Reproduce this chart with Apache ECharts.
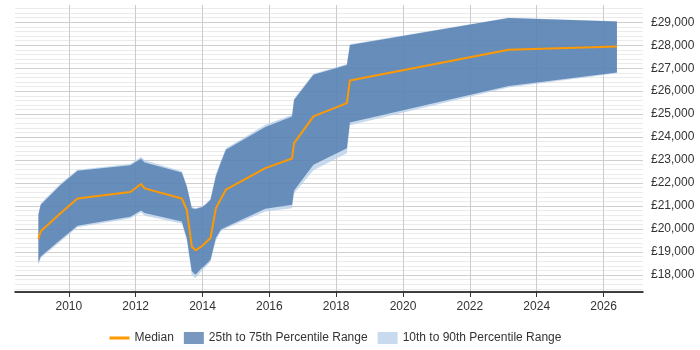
<!DOCTYPE html>
<html>
<head>
<meta charset="utf-8">
<script src="https://cdn.jsdelivr.net/npm/echarts@6/dist/echarts.min.js"></script>
<style>
  html, body { margin: 0; padding: 0; background: #fff; }
  #chart { width: 700px; height: 350px; }
</style>
</head>
<body>
<div id="chart"></div>
<script>
// decimal years where the percentiles change
const years = [2009.09, 2009.16, 2009.76, 2010.26, 2011.84, 2012.16, 2012.27, 2013.38, 2013.53, 2013.68,
  2013.79, 2013.98, 2014.08, 2014.24, 2014.40, 2014.55, 2014.70, 2015.88, 2016.68, 2016.74,
  2017.32, 2018.32, 2018.41, 2023.16, 2026.40];

const median = [19560, 19900, 20700, 21330, 21610, 21960, 21770, 21330, 20840, 19240,
  19070, 19250, 19390, 19610, 20900, 21320, 21710, 22650, 23070, 23740,
  24900, 25480, 26460, 27800, 27940];

const p25 = [18530, 18810, 19540, 20140, 20530, 20810, 20700, 20330, 19610, 18160,
  18010, 18300, 18420, 18660, 19610, 19980, 20090, 20880, 21060, 21680,
  22800, 23520, 24640, 26230, 26810];

const p75 = [20620, 21060, 21930, 22540, 22780, 23060, 22900, 22460, 21850, 20910,
  20870, 20950, 21050, 21270, 22300, 22900, 23450, 24440, 24900, 25620,
  26710, 27140, 28010, 29180, 29030];

const p10 = [18420, 18740, 19470, 20080, 20460, 20720, 20580, 20240, 19500, 18000,
  17860, 18180, 18330, 18580, 19500, 19900, 20020, 20760, 20900, 21550,
  22560, 23300, 24520, 26160, 26780];

const p90 = [20680, 21120, 21990, 22580, 22830, 23150, 22990, 22520, 21900, 20960,
  20900, 20990, 21090, 21320, 22380, 22980, 23520, 24540, 24970, 25680,
  26760, 27180, 28040, 29200, 29040];

const yearTicks = [2010, 2012, 2014, 2016, 2018, 2020, 2022, 2024, 2026];

const FONT = '"Liberation Sans", Arial, sans-serif';

function money(v) {
  return '£' + String(v).replace(/\B(?=(\d{3})+(?!\d))/g, ',');
}

// whole band drawn as one polygon from the first item
function band(lo, hi) {
  return function (params, api) {
    if (params.dataIndex !== 0) return;
    let pts = [];
    for (let i = 0; i < years.length; i++) pts.push(api.coord([years[i], hi[i]]));
    for (let j = years.length - 1; j >= 0; j--) pts.push(api.coord([years[j], lo[j]]));
    return {
      type: 'polygon',
      shape: { points: pts },
      style: { fill: api.visual('color') }
    };
  };
}

const chart = echarts.init(document.getElementById('chart'), null, { renderer: 'canvas' });

chart.setOption({
  animation: false,
  textStyle: { fontFamily: FONT },
  grid: { left: 15, right: 57, top: 5, bottom: 58, containLabel: false },
  legend: {
    left: 103,
    top: 327,
    itemWidth: 20,
    itemHeight: 12,
    itemGap: 10,
    textStyle: { fontSize: 12, color: '#333', fontFamily: FONT },
    data: [
      { name: 'Median', lineStyle: { width: 3 }, itemStyle: { opacity: 0 } },
      { name: '25th to 75th Percentile Range', icon: 'rect' },
      { name: '10th to 90th Percentile Range', icon: 'rect' }
    ]
  },
  xAxis: {
    type: 'value',
    min: 2008.39,
    max: 2027.18,
    splitNumber: 9,
    axisLine: { lineStyle: { color: '#000', width: 1.5 } },
    axisTick: { show: true, length: 5, customValues: yearTicks, lineStyle: { color: '#333' } },
    axisLabel: {
      customValues: yearTicks,
      margin: 9,
      fontSize: 12,
      color: '#333',
      fontFamily: FONT,
      formatter: function (v) { return v % 2 === 0 ? String(v) : ''; }
    },
    splitLine: { show: true, lineStyle: { color: '#cccccc' } }
  },
  yAxis: {
    type: 'value',
    position: 'right',
    min: 17260,
    max: 29750,
    splitNumber: 12,
    axisLine: { show: false },
    axisTick: { show: false },
    axisLabel: {
      showMinLabel: false,
      showMaxLabel: false,
      margin: 8,
      fontSize: 12,
      color: '#333',
      fontFamily: FONT,
      formatter: money
    },
    splitLine: { show: true, showMinLine: false, showMaxLine: false, lineStyle: { color: '#cfcfcf' } },
    minorTick: { show: false, splitNumber: 5 },
    minorSplitLine: { show: true, lineStyle: { color: '#ebebeb' } }
  },
  series: [
    {
      name: '10th to 90th Percentile Range',
      type: 'custom',
      renderItem: band(p10, p90),
      itemStyle: { color: 'rgba(180,205,232,0.75)' },
      encode: { x: 0, y: [1, 2] },
      data: years.map((y, i) => [y, p10[i], p90[i]])
    },
    {
      name: '25th to 75th Percentile Range',
      type: 'custom',
      renderItem: band(p25, p75),
      itemStyle: { color: 'rgba(62,108,165,0.7)' },
      encode: { x: 0, y: [1, 2] },
      data: years.map((y, i) => [y, p25[i], p75[i]])
    },
    {
      name: 'Median',
      type: 'line',
      symbol: 'none',
      color: '#ff9900',
      lineStyle: { width: 2, color: '#ff9900' },
      data: years.map((y, i) => [y, median[i]])
    }
  ]
});
</script>
</body>
</html>
